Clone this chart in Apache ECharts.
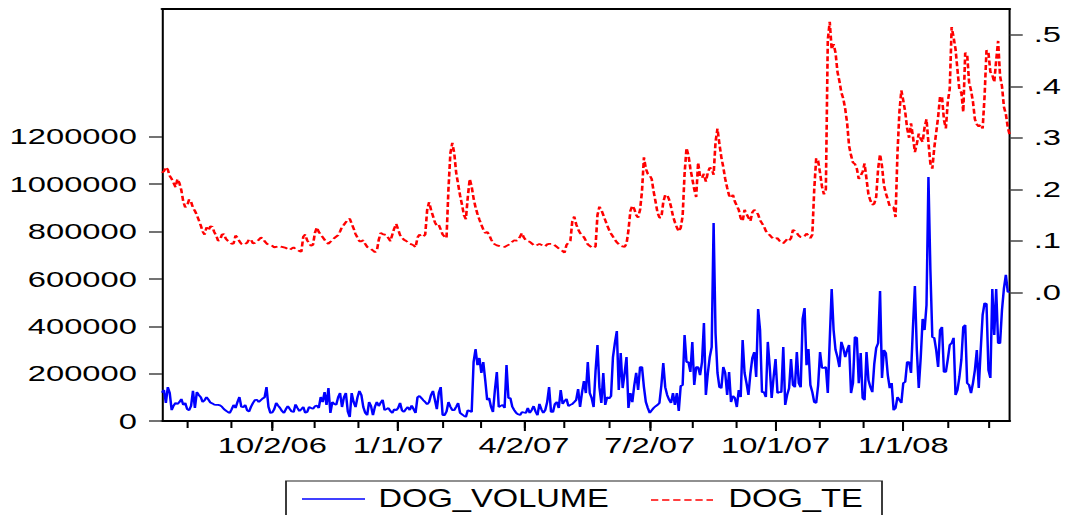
<!DOCTYPE html>
<html>
<head>
<meta charset="utf-8">
<script src="https://cdn.jsdelivr.net/npm/echarts@6/dist/echarts.min.js"></script>
<style>
  html, body { margin: 0; padding: 0; background: #fff; overflow: hidden; width: 1068px; height: 515px; }
  /* the graph is laid out narrow and widened horizontally, like the exported EViews graph */
  #chart { width: 731.5px; height: 515px; transform: scaleX(1.46); transform-origin: 0 0; }
</style>
</head>
<body>
<div id="chart"></div>
<script>
// ---- data ---------------------------------------------------------------
const START_DATE = '2006-07-13';
const END_DATE = '2008-03-18';
const SERIES_NAMES = ['DOG_VOLUME', 'DOG_TE'];

// daily volume, thousands of shares
const volumeK = [
  120,131,76,143,118,46,65,76,72,80,
  93,68,76,50,45,63,127,55,122,110,
  101,80,88,101,90,78,74,69,68,68,
  66,60,50,44,38,34,50,68,55,80,
  101,60,58,68,45,40,60,76,88,90,
  80,88,95,100,143,60,34,36,50,76,
  65,55,42,34,50,63,51,40,38,70,
  55,42,50,59,35,38,59,55,51,62,
  65,55,101,80,122,68,139,34,80,72,
  68,100,118,59,100,118,40,17,118,80,
  59,100,127,110,59,35,25,80,63,25,
  60,80,63,78,89,46,50,55,42,34,
  50,45,55,76,45,38,50,59,46,65,
  50,34,100,106,97,88,80,70,80,110,
  127,89,50,118,143,25,25,40,80,60,
  46,46,60,76,34,28,22,17,46,42,
  38,250,304,236,266,203,249,173,89,97,
  60,38,131,207,59,64,68,55,236,97,
  97,60,46,34,28,25,38,36,34,55,
  34,46,63,40,25,72,50,34,46,80,
  143,38,38,72,80,55,131,72,85,93,
  63,68,72,80,89,135,59,120,169,118,
  249,118,97,59,211,321,143,76,203,68,
  101,95,105,270,330,380,131,287,139,200,
  270,55,118,80,150,203,131,228,228,143,
  80,55,34,45,55,62,68,76,150,245,
  143,110,90,76,118,68,118,42,148,152,
  363,249,249,207,334,152,228,228,194,249,
  414,110,200,270,312,836,372,203,143,139,
  228,203,110,207,80,106,97,59,131,101,
  342,203,160,110,200,266,291,186,473,384,
  122,122,101,334,228,97,186,262,118,122,
  122,312,68,110,139,262,152,143,291,160,
  143,431,477,236,304,152,122,80,76,150,
  291,224,224,228,118,342,557,384,300,270,
  228,334,308,270,300,321,118,160,355,351,
  160,287,97,89,291,173,143,122,240,308,
  329,549,182,300,287,194,139,160,46,55,
  101,89,76,160,165,249,249,203,397,570,
  300,139,266,431,384,490,1030,640,355,351,
  300,228,384,397,207,207,260,321,329,351,
  110,131,186,258,397,405,160,152,118,160,
  215,300,139,300,448,498,494,215,182,557,
  363,557,329,329,469,560,617,545,545
];

// daily TE values
const teValues = [
  0.232,0.235,0.243,0.238,0.226,0.220,0.212,0.204,0.220,0.212,
  0.198,0.176,0.165,0.168,0.180,0.176,0.164,0.158,0.150,0.140,
  0.130,0.118,0.112,0.126,0.120,0.128,0.127,0.117,0.110,0.100,
  0.102,0.112,0.113,0.104,0.100,0.098,0.094,0.095,0.110,0.106,
  0.099,0.094,0.092,0.094,0.096,0.103,0.102,0.095,0.096,0.098,
  0.102,0.106,0.105,0.099,0.095,0.092,0.091,0.090,0.087,0.088,
  0.090,0.089,0.088,0.087,0.086,0.084,0.082,0.085,0.087,0.084,
  0.082,0.080,0.079,0.108,0.112,0.101,0.095,0.090,0.092,0.115,
  0.126,0.117,0.112,0.107,0.102,0.097,0.094,0.098,0.101,0.105,
  0.108,0.111,0.118,0.127,0.131,0.136,0.141,0.143,0.133,0.124,
  0.113,0.106,0.099,0.099,0.101,0.094,0.088,0.086,0.084,0.081,
  0.078,0.080,0.102,0.115,0.113,0.112,0.111,0.105,0.099,0.112,
  0.124,0.133,0.122,0.111,0.106,0.102,0.100,0.097,0.094,0.093,
  0.091,0.087,0.106,0.112,0.108,0.108,0.112,0.160,0.175,0.160,
  0.148,0.136,0.129,0.131,0.122,0.112,0.108,0.105,0.200,0.270,
  0.290,0.270,0.232,0.210,0.188,0.170,0.150,0.142,0.185,0.220,
  0.205,0.182,0.165,0.152,0.141,0.131,0.122,0.115,0.117,0.112,
  0.103,0.096,0.093,0.091,0.090,0.089,0.088,0.088,0.090,0.092,
  0.094,0.098,0.101,0.100,0.102,0.108,0.115,0.106,0.101,0.099,
  0.098,0.095,0.092,0.090,0.092,0.094,0.092,0.090,0.089,0.093,
  0.094,0.094,0.094,0.091,0.088,0.085,0.083,0.080,0.077,0.092,
  0.096,0.100,0.138,0.147,0.132,0.122,0.115,0.111,0.107,0.100,
  0.093,0.090,0.087,0.086,0.089,0.150,0.166,0.160,0.150,0.140,
  0.130,0.121,0.114,0.108,0.102,0.097,0.093,0.090,0.089,0.088,
  0.094,0.120,0.158,0.168,0.162,0.150,0.145,0.160,0.196,0.262,
  0.240,0.230,0.227,0.220,0.196,0.176,0.155,0.145,0.145,0.175,
  0.189,0.189,0.180,0.166,0.148,0.136,0.126,0.118,0.125,0.148,
  0.230,0.280,0.266,0.240,0.220,0.200,0.185,0.252,0.225,0.222,
  0.230,0.215,0.232,0.242,0.240,0.228,0.292,0.318,0.288,0.262,
  0.243,0.220,0.203,0.188,0.183,0.189,0.176,0.168,0.160,0.144,
  0.138,0.160,0.152,0.145,0.138,0.155,0.160,0.157,0.151,0.140,
  0.134,0.128,0.119,0.114,0.111,0.107,0.103,0.104,0.105,0.100,
  0.097,0.095,0.099,0.103,0.100,0.105,0.121,0.119,0.115,0.110,
  0.107,0.107,0.109,0.114,0.110,0.105,0.112,0.200,0.260,0.255,
  0.232,0.205,0.190,0.200,0.490,0.525,0.472,0.482,0.465,0.428,
  0.410,0.388,0.376,0.356,0.328,0.284,0.266,0.252,0.249,0.240,
  0.220,0.226,0.234,0.250,0.220,0.190,0.178,0.170,0.172,0.185,
  0.240,0.268,0.245,0.208,0.192,0.180,0.167,0.166,0.165,0.146,
  0.270,0.350,0.392,0.372,0.350,0.318,0.300,0.328,0.302,0.272,
  0.288,0.308,0.298,0.292,0.320,0.336,0.290,0.250,0.240,0.280,
  0.310,0.340,0.380,0.380,0.335,0.318,0.370,0.395,0.515,0.495,
  0.472,0.432,0.392,0.388,0.350,0.465,0.462,0.408,0.392,0.370,
  0.336,0.326,0.322,0.326,0.318,0.380,0.470,0.465,0.428,0.422,
  0.408,0.450,0.488,0.420,0.400,0.360,0.346,0.320,0.305
];

const volumeTicks = [0, 200000, 400000, 600000, 800000, 1000000, 1200000];
const teTicks = [0, 0.1, 0.2, 0.3, 0.4, 0.5];

// ---- helpers ------------------------------------------------------------
const pad2 = n => (n < 10 ? '0' : '') + n;

// every weekday between two dates (5-day calendar)
function weekdays(start, end) {
  const out = [];
  const d = new Date(start + 'T00:00:00Z');
  const last = new Date(end + 'T00:00:00Z');
  while (d <= last) {
    const wd = d.getUTCDay();
    if (wd !== 0 && wd !== 6) {
      out.push(d.getUTCFullYear() + '-' + pad2(d.getUTCMonth() + 1) + '-' + pad2(d.getUTCDate()));
    }
    d.setUTCDate(d.getUTCDate() + 1);
  }
  return out;
}

const dates = weekdays(START_DATE, END_DATE);
const volume = volumeK.map(v => v * 1000);

const month = s => +s.slice(5, 7);
const isMonthStart = i => i > 0 && month(dates[i]) !== month(dates[i - 1]);
const isQuarterStart = i => isMonthStart(i) && (month(dates[i]) - 1) % 3 === 0;
const shortDate = s => month(s) + '/' + (+s.slice(8, 10)) + '/' + s.slice(2, 4);

// ---- layout -------------------------------------------------------------
const SX = 1.46;              // horizontal widening applied by CSS
const W = 731.5;              // layout width before widening
const px = x => x / SX;       // page x -> layout x
const plotLeft = px(162);
const plotRight = W - px(1009);
const FONT = "'Liberation Sans', Arial, sans-serif";
const BLUE = '#0000ff';
const RED = '#ff0000';
const TE_DASH = [5, 2.6];

const axisText = { fontFamily: FONT, fontSize: 22.4, color: '#000' };

// legend box drawn as graphics; its text is widened less than the axes
const LEGEND_FONT_SIZE = 26;
const LEGEND_TEXT_SCALE = 0.86;
const legendY = 498;
const legendGraphics = [
  {
    type: 'rect', silent: true,
    shape: { x: px(286), y: 481, width: px(882) - px(286), height: 60 },
    style: { fill: '#fff', stroke: '#222', lineWidth: 1.2 }
  },
  {
    type: 'line', silent: true,
    shape: { x1: px(302), y1: legendY + 1, x2: px(365), y2: legendY + 1 },
    style: { stroke: BLUE, lineWidth: 1.6 }
  },
  {
    type: 'text', silent: true, x: px(378.5), y: legendY, scaleX: LEGEND_TEXT_SCALE,
    style: { text: SERIES_NAMES[0], fontFamily: FONT, fontSize: LEGEND_FONT_SIZE, fill: '#000', align: 'left', verticalAlign: 'middle' }
  },
  {
    type: 'line', silent: true,
    shape: { x1: px(651), y1: legendY + 2, x2: px(713), y2: legendY + 2 },
    style: { stroke: RED, lineWidth: 1.6, lineDash: TE_DASH }
  },
  {
    type: 'text', silent: true, x: px(728.5), y: legendY, scaleX: LEGEND_TEXT_SCALE,
    style: { text: SERIES_NAMES[1], fontFamily: FONT, fontSize: LEGEND_FONT_SIZE, fill: '#000', align: 'left', verticalAlign: 'middle' }
  }
];

const option = {
  animation: false,
  backgroundColor: '#fff',
  grid: { left: plotLeft, right: plotRight, top: 9, bottom: 94, show: false },
  graphic: legendGraphics,
  xAxis: [
    {
      // monthly ticks and the bottom frame edge
      type: 'category', data: dates, boundaryGap: false, position: 'bottom',
      axisLine: { onZero: false, lineStyle: { color: '#000', width: 2 } },
      axisTick: { interval: i => isMonthStart(i), length: 7, lineStyle: { color: '#000', width: 1.4 } },
      axisLabel: { show: false },
      splitLine: { show: false }
    },
    {
      // quarterly ticks with date labels
      type: 'category', data: dates, boundaryGap: false, position: 'bottom',
      axisLine: { show: false, onZero: false },
      axisTick: { interval: i => isQuarterStart(i), length: 10, lineStyle: { color: '#000', width: 1.4 } },
      axisLabel: Object.assign({ interval: i => isQuarterStart(i), margin: 13, formatter: v => shortDate(v) }, axisText),
      splitLine: { show: false }
    },
    {
      // top frame edge
      type: 'category', data: dates, boundaryGap: false, position: 'top',
      axisLine: { onZero: false, lineStyle: { color: '#000', width: 2 } },
      axisTick: { show: false }, axisLabel: { show: false }, splitLine: { show: false }
    }
  ],
  yAxis: [
    {
      type: 'value', position: 'left', min: 0, max: 1740000,
      axisLine: { show: true, onZero: false, lineStyle: { color: '#000', width: 1.4 } },
      axisTick: { show: true, customValues: volumeTicks, length: 8.9, lineStyle: { color: '#444', width: 1.5 } },
      axisLabel: Object.assign({ customValues: volumeTicks, margin: 17.2, formatter: v => String(v) }, axisText),
      splitLine: { show: false }
    },
    {
      type: 'value', position: 'right', min: -0.25, max: 0.55,
      axisLine: { show: true, onZero: false, lineStyle: { color: '#000', width: 1.4 } },
      axisTick: { show: true, customValues: teTicks, length: 8.9, lineStyle: { color: '#444', width: 1.5 } },
      axisLabel: Object.assign({ customValues: teTicks, margin: 16.4, formatter: v => v.toFixed(1).replace(/^0/, '') }, axisText),
      splitLine: { show: false }
    }
  ],
  series: [
    {
      name: SERIES_NAMES[0], type: 'line', xAxisIndex: 0, yAxisIndex: 0,
      data: volume, symbol: 'none', showSymbol: false,
      itemStyle: { color: BLUE },
      lineStyle: { color: BLUE, width: 1.7 }
    },
    {
      name: SERIES_NAMES[1], type: 'line', xAxisIndex: 0, yAxisIndex: 1,
      data: teValues, symbol: 'none', showSymbol: false,
      itemStyle: { color: RED },
      lineStyle: { color: RED, width: 1.8, type: TE_DASH }
    }
  ]
};

const chart = echarts.init(document.getElementById('chart'), null, { renderer: 'svg' });
chart.setOption(option);
</script>
</body>
</html>
